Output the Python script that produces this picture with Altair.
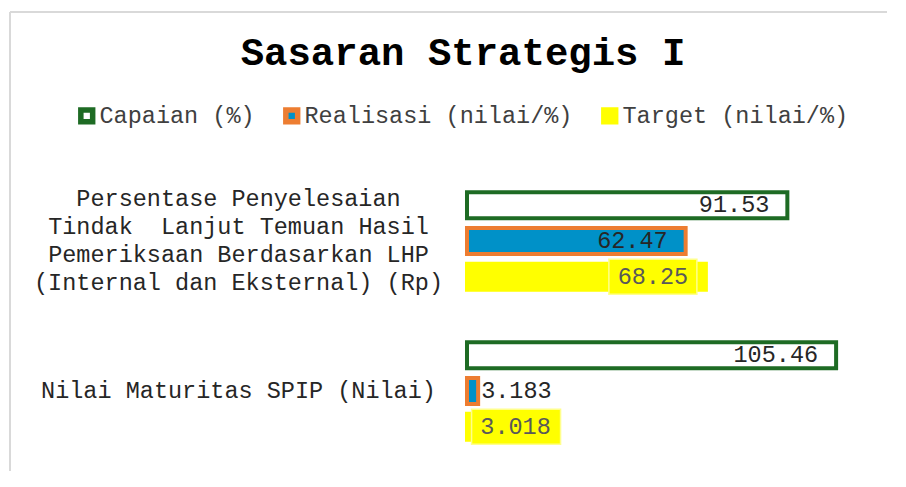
import altair as alt
import pandas as pd

categories = [
    "Persentase Penyelesaian|Tindak\u00a0 Lanjut Temuan Hasil|Pemeriksaan Berdasarkan LHP|(Internal dan Eksternal) (Rp)",
    "Nilai Maturitas SPIP (Nilai)",
]
series = ["Capaian (%)", "Realisasi (nilai/%)", "Target (nilai/%)"]
capaian = [91.53, 105.46]
realisasi = [62.47, 3.183]
target = [68.25, 3.018]

rows = []
for i, c in enumerate(categories):
    for s, vals in zip(series, [capaian, realisasi, target]):
        rows.append({"cat": c, "series": s, "value": vals[i], "label": str(vals[i])})
df = pd.DataFrame(rows)

FONT = "Liberation Mono"
FS = 23.5
fill_range = ["#FFFFFF", "#0091C8", "#FFFF00"]
stroke_range = ["#1E6B24", "#ED7D31", "#FFFF00"]

y = alt.Y(
    "cat:N",
    sort=categories,
    scale=alt.Scale(domain=categories, paddingInner=0, paddingOuter=0),
    axis=alt.Axis(
        title=None, domain=False, ticks=False, tickSize=0, grid=False,
        labelAlign="center", labelBaseline="middle", labelPadding=229,
        labelOffset={"condition": {"test": "indexof(datum.value, '|') >= 0", "value": -42}, "value": 0},
        labelFont=FONT, labelFontSize=FS, labelLineHeight=28,
        labelColor="#262626", labelLimit=1000,
        labelExpr="split(datum.label, '|')",
    ),
)
yoff = alt.YOffset(
    "series:N", sort=series,
    scale=alt.Scale(domain=series, paddingInner=0.272, paddingOuter=0.736),
)
x = alt.X("value:Q", scale=alt.Scale(domain=[0, 120], nice=False, zero=True), axis=None)

legend = alt.Legend(
    title=None, orient="none", legendX=-392, legendY=-62, direction="horizontal",
    labelFont=FONT, labelFontSize=FS, labelColor="#404040", labelLimit=1000,
    symbolType="square", symbolSize=140, symbolStrokeWidth=5.5,
    columnPadding=19, labelOffset=1,
)

bars = alt.Chart(df).mark_bar(strokeWidth=4).encode(
    y=y, yOffset=yoff, x=x,
    fill=alt.Fill("series:N", sort=series, scale=alt.Scale(domain=series, range=fill_range), legend=legend),
    stroke=alt.Stroke("series:N", sort=series, scale=alt.Scale(domain=series, range=stroke_range), legend=legend),
)

TGT = "Target (nilai/%)"
base = alt.Chart(df).encode(y=y, yOffset=yoff, x=x, text=alt.Text("label:N"))
txt_in = base.transform_filter(f"datum.series != '{TGT}' && datum.value >= 20").mark_text(
    align="right", baseline="middle", dx=-18, font=FONT, fontSize=FS, color="#262626")
txt_out = base.transform_filter(f"datum.series != '{TGT}' && datum.value < 20").mark_text(
    align="left", baseline="middle", dx=3, font=FONT, fontSize=FS, color="#262626")

box_big = alt.Chart(df).transform_filter(f"datum.series == '{TGT}' && datum.value >= 20").mark_bar(
    height=35, xOffset=-97, x2Offset=-9, fill="#FFFF00", stroke="#FFFF8C", strokeWidth=1.5
).encode(y=y, yOffset=yoff, x=x, x2=alt.X2("value:Q"))
box_small = alt.Chart(df).transform_filter(f"datum.series == '{TGT}' && datum.value < 20").mark_bar(
    height=35, xOffset=-6, x2Offset=83, fill="#FFFF00", stroke="#FFFF8C", strokeWidth=1.5
).encode(y=y, yOffset=yoff, x=x, x2=alt.X2("value:Q"))

tgt_big = base.transform_filter(f"datum.series == '{TGT}' && datum.value >= 20").mark_text(
    align="center", baseline="middle", dx=-53, font=FONT, fontSize=FS, color="#595959")
tgt_small = base.transform_filter(f"datum.series == '{TGT}' && datum.value < 20").mark_text(
    align="center", baseline="middle", dx=38, font=FONT, fontSize=FS, color="#595959")

frame_df = pd.DataFrame({"a": [0]})
border_top = alt.Chart(frame_df).mark_rule(color="#D9D9D9", strokeWidth=2).encode(
    x=alt.value(-457), x2=alt.value(440), y=alt.value(-154))
border_left = alt.Chart(frame_df).mark_rule(color="#D9D9D9", strokeWidth=2).encode(
    x=alt.value(-457), y=alt.value(-154), y2=alt.value(330))

chart = alt.layer(
    border_top, border_left, bars, txt_in, txt_out, box_big, box_small, tgt_big, tgt_small
).properties(
    width=420, height=300,
    title=alt.TitleParams(
        "Sasaran Strategis I", font=FONT, fontSize=39, fontWeight="bold",
        color="#000000", anchor="middle", dx=-214, dy=66,
    ),
    padding={"left": 459, "top": 158, "right": 0, "bottom": 5},
    autosize=alt.AutoSizeParams(type="none"),
    background="#FFFFFF",
).configure_view(stroke=None)

chart.save("out.html", embed_options={"renderer": "svg", "actions": False})
